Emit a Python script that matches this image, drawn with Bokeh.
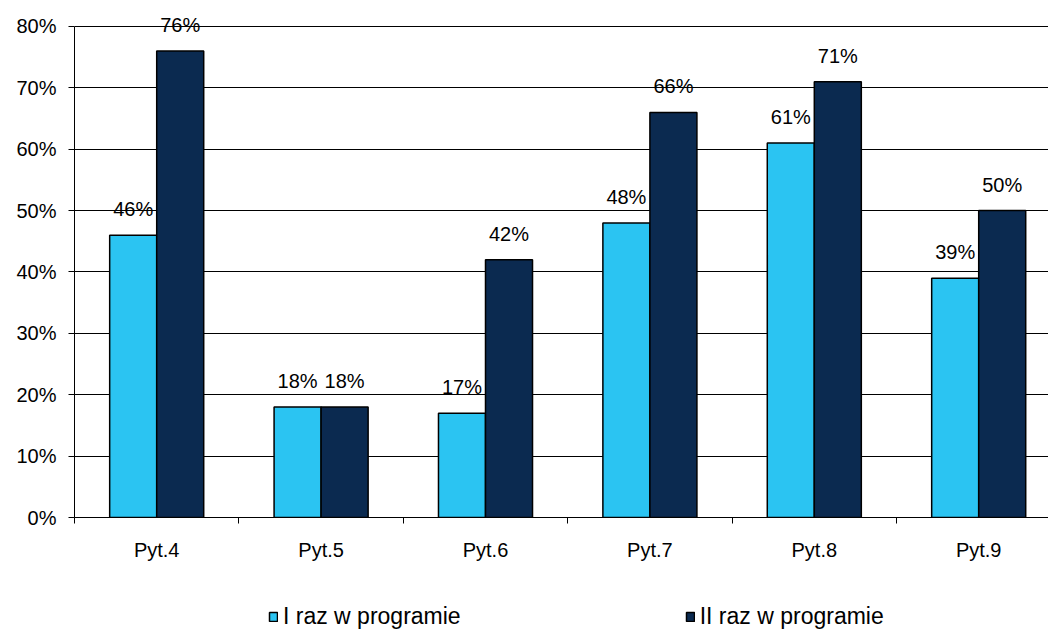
from bokeh.plotting import figure
from bokeh.layouts import column
from bokeh.models import Range1d, FixedTicker, Legend, LegendItem, ColumnDataSource
from bokeh.core.properties import value
from bokeh.embed import file_html
from bokeh.resources import INLINE

categories = ["Pyt.4", "Pyt.5", "Pyt.6", "Pyt.7", "Pyt.8", "Pyt.9"]
series1_name = "I raz w programie"
series2_name = "II raz w programie"
series1 = [46, 18, 17, 48, 61, 39]
series2 = [76, 18, 42, 66, 71, 50]
y_ticks = [0, 10, 20, 30, 40, 50, 60, 70, 80]

FONT = "Liberation Sans"
LIGHT = "#2bc4f2"
DARK = "#0b2a50"
W = 1048

n = len(categories)
centers = [i + 0.5 for i in range(n)]
x1 = [i + 0.357 for i in range(n)]
x2 = [i + 0.643 for i in range(n)]
bw = 0.286

p = figure(width=W, height=580, output_backend="svg", toolbar_location=None,
           x_range=Range1d(0, (W - 74) / 164.4), y_range=Range1d(0, 82.93),
           min_border_left=74, min_border_right=0, min_border_top=8,
           min_border_bottom=63)
p.outline_line_color = None
p.background_fill_color = "white"

src1 = ColumnDataSource(dict(x=x1, top=series1, lab=[f"{v}%" for v in series1]))
src2 = ColumnDataSource(dict(x=x2, top=series2, lab=[f"{v}%" for v in series2]))

r1 = p.vbar(x="x", top="top", width=bw, source=src1, fill_color=LIGHT,
            line_color="black", line_width=1.5)
r2 = p.vbar(x="x", top="top", width=bw, source=src2, fill_color=DARK,
            line_color="black", line_width=1.5)

for s in (src1, src2):
    p.text(x="x", y="top", text="lab", source=s, text_align="center",
           text_baseline="alphabetic", y_offset=-26, text_font=value(FONT),
           text_font_size="20px", text_color="black")

# y axis
ya = p.yaxis[0]
ya.ticker = FixedTicker(ticks=y_ticks)
ya.major_label_overrides = {v: f"{v}%" for v in y_ticks}
ya.bounds = (0, 80)
ya.major_tick_out = 6
ya.major_tick_in = 0
ya.minor_tick_line_color = None
ya.major_tick_line_color = "black"
ya.axis_line_color = "black"
ya.major_label_standoff = 12
ya.major_label_text_font = FONT
ya.major_label_text_font_size = "20px"
ya.major_label_text_color = "black"

# x axis
xa = p.xaxis[0]
xa.ticker = FixedTicker(ticks=centers, minor_ticks=list(range(n)))
xa.major_label_overrides = {c: cat for c, cat in zip(centers, categories)}
xa.major_tick_line_color = None
xa.major_tick_out = 0
xa.major_tick_in = 0
xa.minor_tick_out = 6
xa.minor_tick_in = 0
xa.minor_tick_line_color = "black"
xa.axis_line_color = "black"
xa.major_label_standoff = 15
xa.major_label_text_font = FONT
xa.major_label_text_font_size = "20px"
xa.major_label_text_color = "black"

# grids
p.xgrid.grid_line_color = None
p.ygrid.ticker = FixedTicker(ticks=y_ticks)
p.ygrid.grid_line_color = "black"
p.ygrid.grid_line_width = 1

# legend strip below the chart
leg = figure(width=W, height=50, output_backend="svg", toolbar_location=None,
             x_range=Range1d(0, 1), y_range=Range1d(0, 1),
             min_border_left=74, min_border_right=0, min_border_top=0,
             min_border_bottom=0)
leg.axis.visible = False
leg.grid.visible = False
leg.outline_line_color = None
nan = float("nan")
swatch = ColumnDataSource(dict(x=[nan], top=[nan]))
l1 = leg.vbar(x="x", top="top", width=0.1, source=swatch, fill_color=LIGHT,
              line_color="black", line_width=1.5)
l2 = leg.vbar(x="x", top="top", width=0.1, source=swatch, fill_color=DARK,
              line_color="black", line_width=1.5)
legend = Legend(items=[LegendItem(label=series1_name, renderers=[l1]),
                       LegendItem(label=series2_name, renderers=[l2])],
                orientation="horizontal", location=(194, 0), spacing=224,
                glyph_width=10, glyph_height=11, label_standoff=5,
                label_text_font=FONT, label_text_font_size="23px",
                label_text_color="black",
                padding=0, margin=0, border_line_color=None,
                background_fill_alpha=0)
leg.add_layout(legend, "center")

layout = column(p, leg, spacing=0)
open("out.html", "w").write(file_html(layout, INLINE))
